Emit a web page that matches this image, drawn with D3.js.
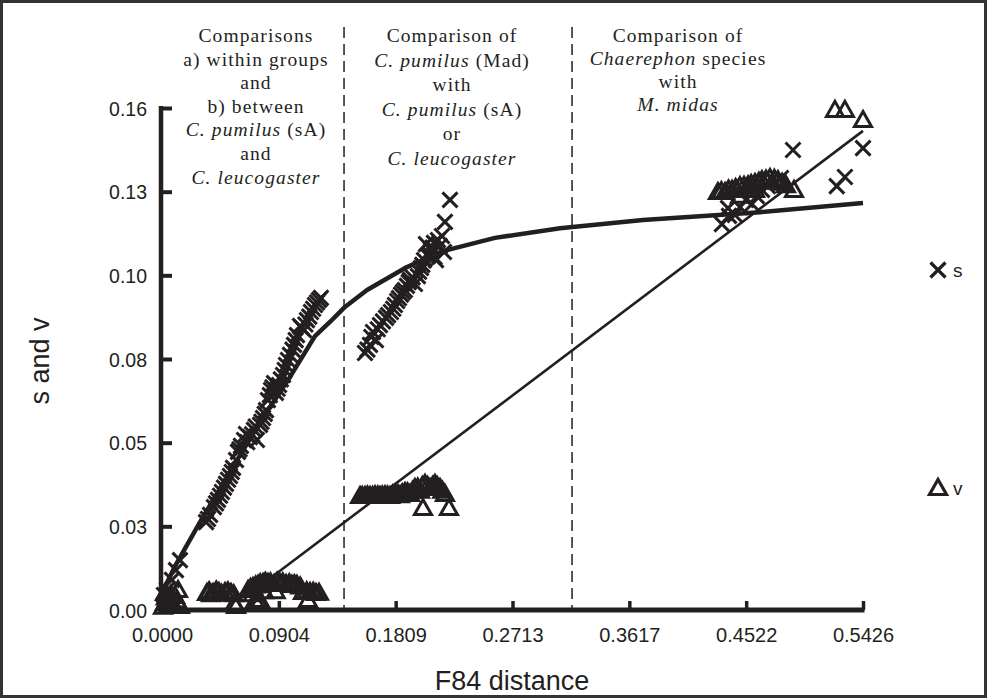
<!DOCTYPE html>
<html><head><meta charset="utf-8">
<script src="https://cdn.jsdelivr.net/npm/d3@7"></script>
<style>
html,body{margin:0;padding:0;background:#fff;}
svg{display:block;}
</style></head>
<body>
<svg id="chart" width="988" height="700"></svg>
<script>
// ---------- DATA ----------
const xTickValues = [0, 0.09043, 0.18087, 0.2713, 0.36173, 0.45217, 0.5426];
const xTickLabels = ["0.0000","0.0904","0.1809","0.2713","0.3617","0.4522","0.5426"];
const yTickValues = [0, 0.02667, 0.05333, 0.08, 0.10667, 0.13333, 0.16];
const yTickLabels = ["0.00","0.03","0.05","0.08","0.10","0.13","0.16"];
const dividerDist = [0.1409, 0.3174];

// s points (F84 distance, s)
const sDist = [0.0015,0.0039,0.0077,0.0108,0.0139,0.0341,0.0372,0.0402,0.0433,0.0464,0.0495,0.0526,0.0550,0.0573,0.0588,0.0611,0.0635,0.0650,0.0681,0.0712,0.0735,0.0759,0.0782,0.0805,0.0820,0.0844,0.0867,0.0882,0.0906,0.0937,0.0960,0.0991,0.1022,0.1045,0.1068,0.1099,0.1122,0.1153,0.1184,0.1215,
  0.0356,0.0418,0.0449,0.0480,0.0511,0.0540,0.0600,0.0660,0.0697,0.0725,0.0770,0.0795,0.0835,0.0855,0.0895,0.0920,0.0950,0.0975,0.1010,0.1035,0.1080,0.1110,0.1140,0.1170,0.1200,0.1230,
  0.1571,0.1610,0.1656,0.1633,0.1687,0.1734,0.1772,0.1803,0.1834,0.1865,0.1896,0.1920,0.1958,0.1981,0.2005,0.2028,0.2059,0.2082,0.2043,0.2105,0.2136,0.2167,0.2121,0.2183,0.2190,0.2229,
  0.1590,0.1620,0.1670,0.1710,0.1750,0.1790,0.1820,0.1850,0.1880,0.1910,0.1940,0.1990,0.2015,0.2070,0.2095,0.2150,0.2110,
  0.4334,0.4389,0.4381,0.4435,0.4474,0.4520,0.4567,0.4605,0.4644,0.4690,0.4752,0.4791,0.4884,0.5223,0.5286,0.5426];
const sVal = [0.0048,0.0064,0.0096,0.0127,0.0159,0.0280,0.0303,0.0328,0.0351,0.0376,0.0402,0.0427,0.0453,0.0478,0.0504,0.0523,0.0542,0.0561,0.0551,0.0574,0.0542,0.0590,0.0612,0.0637,0.0669,0.0701,0.0723,0.0692,0.0717,0.0749,0.0781,0.0813,0.0845,0.0876,0.0905,0.0892,0.0924,0.0950,0.0972,0.0988,
  0.0290,0.0340,0.0364,0.0390,0.0415,0.0440,0.0512,0.0535,0.0560,0.0585,0.0600,0.0625,0.0685,0.0710,0.0705,0.0735,0.0765,0.0797,0.0830,0.0860,0.0900,0.0910,0.0935,0.0960,0.0980,0.0995,
  0.0819,0.0845,0.0860,0.0886,0.0908,0.0931,0.0950,0.0972,0.0994,0.1013,0.1033,0.1052,0.1039,0.1064,0.1090,0.1115,0.1128,0.1147,0.1166,0.1170,0.1179,0.1192,0.1115,0.1141,0.1237,0.1307,
  0.0830,0.0870,0.0895,0.0920,0.0940,0.0960,0.0985,0.1005,0.1020,0.1045,0.1060,0.1078,0.1100,0.1135,0.1155,0.1160,0.1125,
  0.1230,0.1256,0.1281,0.1259,0.1284,0.1307,0.1294,0.1319,0.1339,0.1351,0.1364,0.1377,0.1466,0.1351,0.1380,0.1472];

// v points (F84 distance, v)
const vDist = [0.0023,0.0062,0.0101,0.0124,0.0046,0.0139,0.0023,0.0008,0.0030,0.0085,0.0115,0.0070,
  0.0348,0.0395,0.0441,0.0488,0.0534,0.0573,0.0365,0.0380,0.0420,0.0460,0.0510,0.0555,0.0560,
  0.0666,0.0704,0.0743,0.0782,0.0820,0.0867,0.0913,0.0960,0.1006,0.1045,0.1091,0.1146,0.1192,0.0743,0.1130,
  0.0685,0.0725,0.0760,0.0800,0.0840,0.0890,0.0935,0.0985,0.1025,0.1070,0.1120,0.1170,0.1215,0.0700,0.0790,0.0880,0.0720,0.0760,
  0.1533,0.1571,0.1610,0.1649,0.1687,0.1726,0.1765,0.1803,0.1842,0.1881,0.1920,0.1958,0.1997,0.2036,0.2074,0.2113,0.2152,0.2190,0.2020,0.2221,
  0.1550,0.1590,0.1630,0.1670,0.1705,0.1745,0.1785,0.1825,0.1860,0.1900,0.1940,0.1980,0.2015,0.2055,0.2095,0.2130,0.2170,
  0.4303,0.4358,0.4412,0.4474,0.4536,0.4590,0.4644,0.4706,0.4768,0.4830,0.4892,0.4474,0.4590,
  0.4330,0.4385,0.4440,0.4505,0.4560,0.4620,0.4675,0.4740,0.4800,
  0.5209,0.5286,0.5426];
const vVal = [0.0022,0.0032,0.0045,0.0064,0.0013,0.0013,0.0054,0.0010,0.0040,0.0020,0.0030,0.0048,
  0.0054,0.0054,0.0057,0.0057,0.0054,0.0013,0.0060,0.0050,0.0062,0.0052,0.0060,0.0050,0.0020,
  0.0064,0.0073,0.0080,0.0086,0.0086,0.0083,0.0086,0.0083,0.0080,0.0080,0.0057,0.0057,0.0054,0.0032,0.0032,
  0.0070,0.0078,0.0085,0.0090,0.0088,0.0090,0.0088,0.0085,0.0082,0.0075,0.0060,0.0058,0.0055,0.0050,0.0060,0.0060,0.0030,0.0030,
  0.0363,0.0363,0.0363,0.0366,0.0363,0.0366,0.0363,0.0370,0.0366,0.0376,0.0370,0.0389,0.0380,0.0402,0.0389,0.0402,0.0389,0.0370,0.0325,0.0325,
  0.0363,0.0365,0.0363,0.0365,0.0365,0.0365,0.0368,0.0370,0.0372,0.0375,0.0380,0.0390,0.0395,0.0395,0.0395,0.0395,0.0380,
  0.1332,0.1332,0.1339,0.1351,0.1354,0.1361,0.1370,0.1377,0.1370,0.1354,0.1339,0.1320,0.1339,
  0.1335,0.1340,0.1345,0.1352,0.1358,0.1365,0.1372,0.1374,0.1362,
  0.1594,0.1594,0.1562];

// fitted curves
const sFitDist = [0,0.0101,0.0294,0.0526,0.0759,0.0991,0.1184,0.1300,0.1416,0.1587,0.1896,0.2175,0.2577,0.3081,0.3723,0.4629,0.5426];
const sFitVal  = [0.0054,0.0140,0.0280,0.0440,0.0599,0.0743,0.0873,0.0918,0.0966,0.1020,0.1093,0.1144,0.1186,0.1217,0.1243,0.1268,0.1297];
const vFitDist = [0.0750,0.5426];
const vFitVal  = [0.0074,0.1527];

const annotations = [
  [["Comparisons"],["a) within groups"],["and"],["b) between"],[["C. pumilus ",true],["(sA)",false]],["and"],[["C. leucogaster",true]]],
  [["Comparison of"],[["C. pumilus ",true],["(Mad)",false]],["with"],[["C. pumilus ",true],["(sA)",false]],["or"],[["C. leucogaster",true]]],
  [["Comparison of"],[["Chaerephon",true],[" species",false]],["with"],[["M. midas",true]]]
];
const legendLabels = ["s","v"];

// ---------- DRAW ----------
const ink = "#231f20";
const svg = d3.select("#chart");
const x = d3.scaleLinear().domain([0, 0.5426]).range([162, 863]);
const y = d3.scaleLinear().domain([0, 0.16]).range([610, 108]);

// frame
svg.append("rect").attr("x",1.5).attr("y",1.5).attr("width",984).attr("height",695)
  .attr("fill","none").attr("stroke","#333").attr("stroke-width",3);

// dividers
svg.selectAll(".div").data(dividerDist).join("line")
  .attr("x1",d=>x(d)).attr("x2",d=>x(d)).attr("y1",27).attr("y2",y(0))
  .attr("stroke",ink).attr("stroke-width",1.5).attr("stroke-dasharray","11,6");

// annotations
const blockCenters = [256, 452, 678];
const blockSpacing = [23.6, 24.5, 23];
annotations.forEach((block,bi)=>{
  block.forEach((line,li)=>{
    const t = svg.append("text")
      .attr("x",blockCenters[bi]).attr("y",42 + li*blockSpacing[bi])
      .attr("text-anchor","middle")
      .attr("font-family","'Liberation Serif','Times New Roman',serif")
      .attr("font-size",19.5).attr("letter-spacing","1.1px").attr("fill",ink);
    if (typeof line[0] === "string") { t.text(line[0]); }
    else line.forEach(seg=>{
      t.append("tspan").text(seg[0]).attr("font-style", seg[1] ? "italic" : "normal");
    });
  });
});

// axes
const xAxis = d3.axisBottom(x).tickValues(xTickValues)
  .tickFormat((d,i)=>xTickLabels[i]).tickSize(0).tickPadding(0);
const gx = svg.append("g").attr("transform",`translate(0,${y(0)})`).call(xAxis);
gx.select(".domain").remove();
gx.selectAll("text").attr("y",32).attr("dy",null)
  .attr("font-family","'Liberation Sans',Arial,sans-serif").attr("font-size",20).attr("fill",ink);
gx.selectAll(".tick").filter((d,i)=>i>0).append("line")
  .attr("y1",0).attr("y2",-9).attr("stroke",ink).attr("stroke-width",3.5);

const yAxis = d3.axisLeft(y).tickValues(yTickValues)
  .tickFormat((d,i)=>yTickLabels[i]).tickSize(0).tickPadding(0);
const gy = svg.append("g").attr("transform",`translate(161,0)`).call(yAxis);
gy.select(".domain").remove();
gy.selectAll("text").attr("x",-14).attr("dy","0.36em")
  .attr("font-family","'Liberation Sans',Arial,sans-serif").attr("font-size",19.5).attr("fill",ink);
gy.selectAll(".tick").filter((d,i)=>i>0).append("line")
  .attr("x1",0).attr("x2",11).attr("stroke",ink).attr("stroke-width",4);

svg.append("line").attr("x1",161).attr("x2",161).attr("y1",y(0.16)-2).attr("y2",y(0)+2)
  .attr("stroke",ink).attr("stroke-width",4.5);
svg.append("line").attr("x1",159).attr("x2",x(0.5426)+1.5).attr("y1",y(0)).attr("y2",y(0))
  .attr("stroke",ink).attr("stroke-width",5);

// axis titles
svg.append("text").attr("transform","translate(49,361) rotate(-90)")
  .attr("text-anchor","middle").attr("font-family","'Liberation Sans',Arial,sans-serif")
  .attr("font-size",27).attr("fill",ink).text("s and v");
svg.append("text").attr("x",512).attr("y",690)
  .attr("text-anchor","middle").attr("font-family","'Liberation Sans',Arial,sans-serif")
  .attr("font-size",27).attr("fill",ink).text("F84 distance");

// fit lines
const lineGen = d3.line().x(d=>x(d[0])).y(d=>y(d[1]));
svg.append("path").datum(sFitDist.map((d,i)=>[d,sFitVal[i]]))
  .attr("d",lineGen).attr("fill","none").attr("stroke",ink).attr("stroke-width",4.5)
  .attr("stroke-linejoin","round");
svg.append("path").datum(vFitDist.map((d,i)=>[d,vFitVal[i]]))
  .attr("d",lineGen).attr("fill","none").attr("stroke",ink).attr("stroke-width",2.6);

// markers
const crossPath = "M-7.5,-7.5L7.5,7.5M-7.5,7.5L7.5,-7.5";
const triPath = "M0,-8.5L8.5,6.5L-8.5,6.5Z";
svg.append("g").selectAll("path").data(vDist.map((d,i)=>[d,vVal[i]])).join("path")
  .attr("transform",d=>`translate(${x(d[0])},${y(d[1])})`)
  .attr("d",triPath).attr("fill","none").attr("stroke",ink).attr("stroke-width",3)
  .attr("stroke-linejoin","miter");
svg.append("g").selectAll("path").data(sDist.map((d,i)=>[d,sVal[i]])).join("path")
  .attr("transform",d=>`translate(${x(d[0])},${y(d[1])})`)
  .attr("d",crossPath).attr("fill","none").attr("stroke",ink).attr("stroke-width",3);

// legend
const leg = [[938,270,crossPath],[938,488,triPath]];
leg.forEach((l,i)=>{
  svg.append("path").attr("transform",`translate(${l[0]},${l[1]})`).attr("d",l[2])
    .attr("fill","none").attr("stroke",ink).attr("stroke-width",3.2);
  svg.append("text").attr("x",953).attr("y",l[1]+7)
    .attr("font-family","'Liberation Sans',Arial,sans-serif").attr("font-size",19)
    .attr("fill",ink).text(legendLabels[i]);
});
</script>
</body></html>
